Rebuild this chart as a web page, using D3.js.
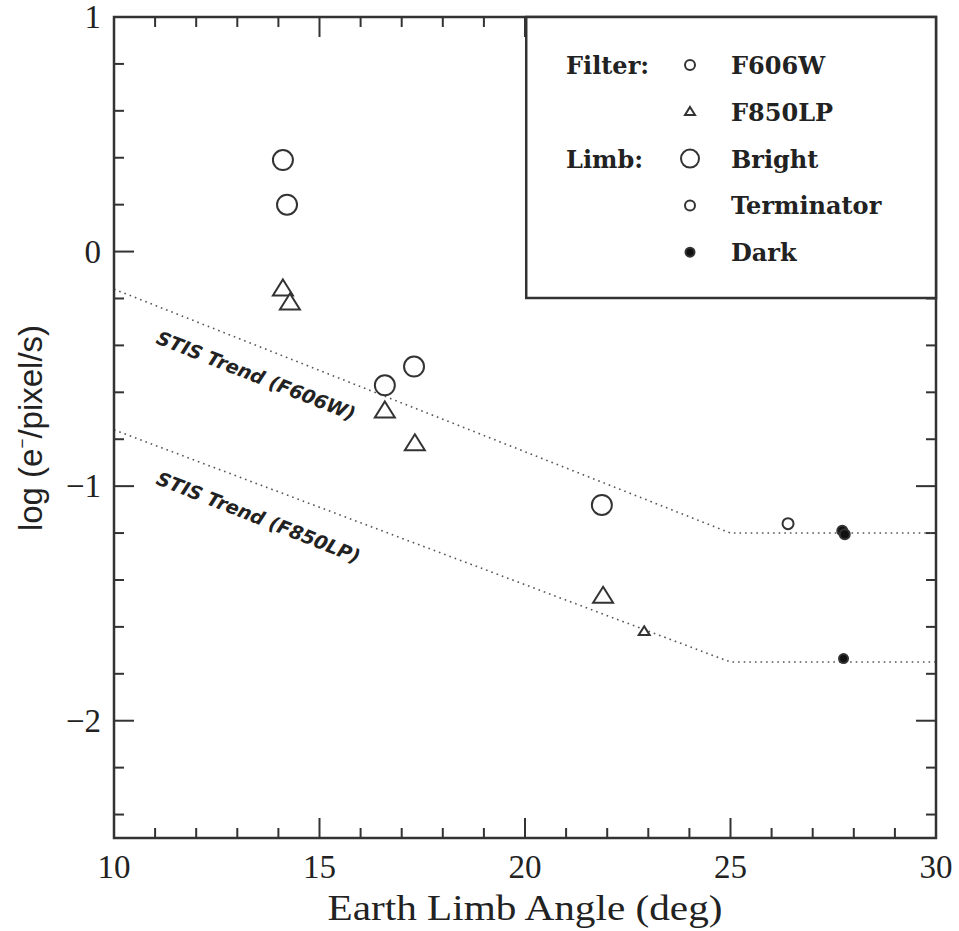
<!DOCTYPE html>
<html>
<head>
<meta charset="utf-8">
<script src="https://cdn.jsdelivr.net/npm/d3@7"></script>
<style>
body{margin:0;background:#fff}
text{fill:#222}
</style>
</head>
<body>
<script>
// bright limb points, filter F606W / F850LP  [angle, log rate]
var brightF606W=[[14.11,0.39],[14.21,0.20],[16.59,-0.57],[17.30,-0.49],[21.87,-1.08]]
var brightF850LP=[[14.11,-0.16],[14.28,-0.22],[16.59,-0.68],[17.32,-0.82],[21.90,-1.47]]
var termF606W=[[26.40,-1.16]]
var termF850LP=[[22.90,-1.62]]
var darkF606W=[[27.72,-1.19],[27.78,-1.205]]
var darkF850LP=[[27.75,-1.735]]
// STIS trend lines
var trendX=[10,25,30]
var trendF606W=[-0.16,-1.2,-1.2]
var trendF850LP=[-0.76,-1.75,-1.75]
var xTicks=[10,15,20,25,30]
var yTicks=[1,0,-1,-2]
var legendRows=[
  {head:"Filter:",label:"F606W",sym:"circle",size:"small"},
  {head:"",label:"F850LP",sym:"triangle",size:"small"},
  {head:"Limb:",label:"Bright",sym:"circle",size:"big"},
  {head:"",label:"Terminator",sym:"circle",size:"small"},
  {head:"",label:"Dark",sym:"dot",size:"small"}
]

var W=959,H=931
var margins={top:17,right:23,bottom:93,left:114}
var ink="#333"
var svg=d3.select("body").append("svg")
          .attr("width",W)
          .attr("height",H)
var x=d3.scaleLinear().domain([10,30]).range([margins.left,W-margins.right])
var y=d3.scaleLinear().domain([-2.5,1]).range([H-margins.bottom,margins.top])

// ticks on all four sides, inward
var drawTicks=function(){
  var g=svg.append("g").attr("stroke",ink).attr("stroke-width",2)
  d3.range(10,30.01,1).forEach(function(v){
    var len=(v%5==0)?20:10
    g.append("line").attr("x1",x(v)).attr("x2",x(v)).attr("y1",y(-2.5)).attr("y2",y(-2.5)-len)
    g.append("line").attr("x1",x(v)).attr("x2",x(v)).attr("y1",y(1)).attr("y2",y(1)+len)
  })
  var yt=d3.range(-2.4,1.001,0.2).map(function(d){return Math.round(d*10)/10})
  yt.forEach(function(v){
    var len=(Math.abs(v-Math.round(v))<1e-6)?20:10
    g.append("line").attr("x1",x(10)).attr("x2",x(10)+len).attr("y1",y(v)).attr("y2",y(v))
    g.append("line").attr("x1",x(30)).attr("x2",x(30)-len).attr("y1",y(v)).attr("y2",y(v))
  })
}
drawTicks()

// trend lines
var line=d3.line().x(function(d){return x(d[0])}).y(function(d){return y(d[1])})
;[trendF606W,trendF850LP].forEach(function(t){
  svg.append("path")
     .datum(trendX.map(function(v,i){return [v,t[i]]}))
     .attr("d",line)
     .attr("fill","none")
     .attr("stroke","#555")
     .attr("stroke-width",1.6)
     .attr("stroke-dasharray","1.6,4")
})
var ang=Math.atan2(y(trendF606W[1])-y(trendF606W[0]),x(trendX[1])-x(trendX[0]))*180/Math.PI
var trendLabels=[{t:"STIS Trend (F606W)",x:11.0,y:-0.39},{t:"STIS Trend (F850LP)",x:11.0,y:-0.99}]
svg.selectAll("text.trend")
   .data(trendLabels)
   .enter()
   .append("text")
   .classed("trend",true)
   .attr("transform",function(d){return "translate("+x(d.x)+","+y(d.y)+") rotate("+ang+")"})
   .attr("font-family","DejaVu Sans")
   .attr("font-weight","bold")
   .attr("font-style","oblique")
   .attr("font-size",19)
   .text(function(d){return d.t})

// symbols
var tri=function(s){var h=s*0.8;return "M0,"+(-h*0.6)+"L"+(s/2)+","+(h*0.4)+"L"+(-s/2)+","+(h*0.4)+"Z"}
var drawCircles=function(data,r,filled){
  svg.append("g").selectAll("circle")
     .data(data).enter().append("circle")
     .attr("cx",function(d){return x(d[0])})
     .attr("cy",function(d){return y(d[1])})
     .attr("r",r)
     .attr("fill",filled?"#111":"#fff")
     .attr("stroke","#333")
     .attr("stroke-width",2)
}
var drawTris=function(data,s,filled){
  svg.append("g").selectAll("path")
     .data(data).enter().append("path")
     .attr("transform",function(d){return "translate("+x(d[0])+","+y(d[1])+")"})
     .attr("d",tri(s))
     .attr("fill",filled?"#111":"#fff")
     .attr("stroke","#333")
     .attr("stroke-width",2)
}
drawCircles(brightF606W,10,false)
drawTris(brightF850LP,20,false)
drawCircles(termF606W,5.5,false)
drawTris(termF850LP,11,false)
drawCircles(darkF606W,5,true)
drawCircles(darkF850LP,4.5,true)

// frame
svg.append("rect")
   .attr("x",x(10)).attr("y",y(1))
   .attr("width",x(30)-x(10)).attr("height",y(-2.5)-y(1))
   .attr("fill","none").attr("stroke",ink).attr("stroke-width",2.5)

// legend box
var lg=svg.append("g")
lg.append("rect")
  .attr("x",x(20.03)).attr("y",y(1))
  .attr("width",x(30)-x(20.03)).attr("height",281)
  .attr("fill","#fff").attr("stroke",ink).attr("stroke-width",2.5)
var rowY=function(i){return 65+i*46.8}
legendRows.forEach(function(r,i){
  var cy=rowY(i)
  lg.append("text").attr("x",566).attr("y",cy+9).text(r.head)
    .attr("font-family","DejaVu Serif").attr("font-weight","bold").attr("font-size",24)
  lg.append("text").attr("x",731).attr("y",cy+9).text(r.label)
    .attr("font-family","DejaVu Serif").attr("font-weight","bold").attr("font-size",24)
  if(r.sym=="triangle"){
    lg.append("path").attr("transform","translate(690,"+cy+")").attr("d",tri(10))
      .attr("fill","#fff").attr("stroke","#333").attr("stroke-width",2)
  }else{
    lg.append("circle").attr("cx",690).attr("cy",cy)
      .attr("r",r.size=="big"?9:r.sym=="dot"?4.5:5)
      .attr("fill",r.sym=="dot"?"#111":"#fff")
      .attr("stroke","#333").attr("stroke-width",2)
  }
})

// tick labels
svg.selectAll("text.xt").data(xTicks).enter().append("text").classed("xt",true)
   .attr("x",function(d){return x(d)}).attr("y",878)
   .attr("text-anchor","middle")
   .attr("font-family","Liberation Serif").attr("font-size",33)
   .text(function(d){return d})
svg.selectAll("text.yt").data(yTicks).enter().append("text").classed("yt",true)
   .attr("x",101).attr("y",function(d){return y(d)+11})
   .attr("text-anchor","end")
   .attr("font-family","Liberation Serif").attr("font-size",33)
   .text(function(d){return d<0?"\u2212"+(-d):d})

// axis titles
svg.append("text")
   .attr("x",x(20)).attr("y",920)
   .attr("text-anchor","middle")
   .attr("font-family","Liberation Serif").attr("font-size",36)
   .attr("textLength",395).attr("lengthAdjust","spacingAndGlyphs")
   .text("Earth Limb Angle (deg)")
var yl=svg.append("text")
   .attr("transform","translate(42,428) rotate(-90)")
   .attr("text-anchor","middle")
   .attr("font-family","Liberation Sans").attr("font-size",33)
yl.append("tspan").text("log (e")
yl.append("tspan").attr("dy",-14).attr("font-size",17).text("\u2212")
yl.append("tspan").attr("dy",14).text("/pixel/s)")
</script>
</body>
</html>
